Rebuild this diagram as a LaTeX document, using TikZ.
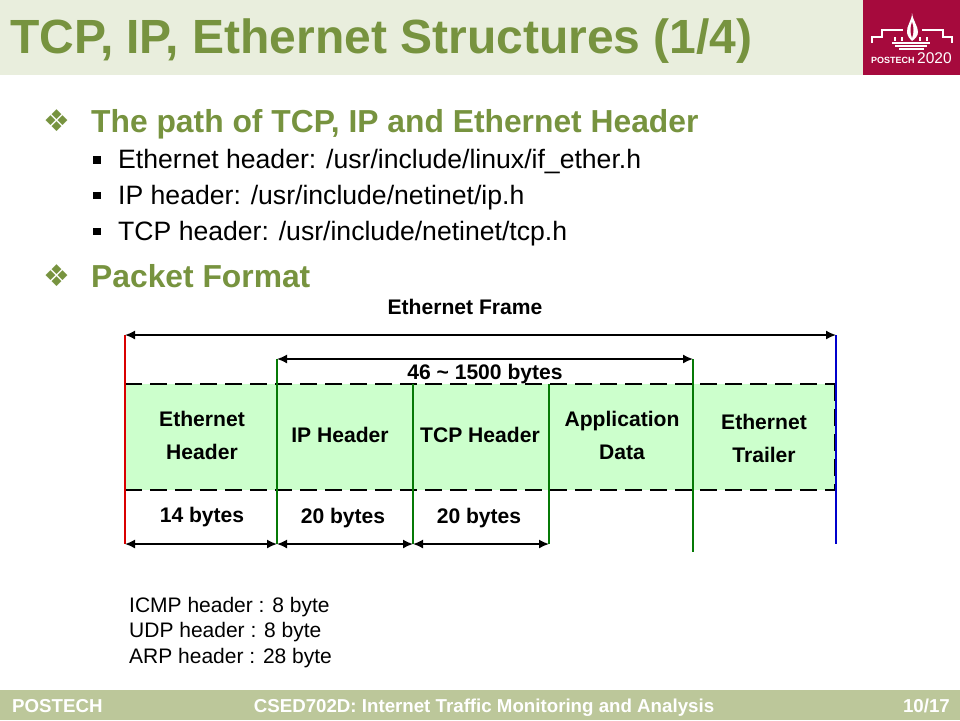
\documentclass[tikz,border=0pt]{standalone}
\usepackage{fontspec}
\setmainfont{Liberation Sans}
\newfontfamily\symfont{DejaVu Sans}
\usetikzlibrary{arrows.meta}
\definecolor{bandcol}{HTML}{E9EEDD}
\definecolor{footcol}{HTML}{BCC79A}
\definecolor{headcol}{HTML}{77933F}
\definecolor{logocol}{HTML}{A60A3D}
\definecolor{cellcol}{HTML}{CCFFCC}
\definecolor{stationgreen}{HTML}{067A06}
\newcommand{\fs}[1]{\fontsize{#1}{#1}\selectfont}

\begin{document}
\begin{tikzpicture}[
    x=1pt, y=-1pt,
    title/.style={anchor=base west, inner sep=0pt, text=headcol, font=\bfseries\fs{48}},
    head/.style={anchor=base west, inner sep=0pt, text=headcol, font=\bfseries\fs{31.8}},
    item/.style={anchor=base west, inner sep=0pt, font=\fs{26.6}},
    note/.style={anchor=base west, inner sep=0pt, font=\fs{21}},
    cell/.style={inner sep=0pt, align=center, font=\bfseries\fs{21.1}},
    foot/.style={inner sep=0pt, anchor=base, text=white, font=\bfseries\fs{18.7}},
    span/.style={{Latex[length=10pt,width=9pt]}-{Latex[length=10pt,width=9pt]}, line width=1.6pt},
    frame/.style={dashed, dash pattern=on 17pt off 8pt, line width=2pt},
    station/.style={line width=1.8pt, stationgreen},
    logoline/.style={white, line width=1.4pt},
  ]
  \useasboundingbox (0,0) rectangle (960,720);

  % --- title and footer bands ---------------------------------------------
  \fill[bandcol] (0,0) rectangle (863,75);
  \fill[footcol] (0,690) rectangle (960,720);
  \node[title] (titletext) at (10,53) {TCP, IP, Ethernet Structures (1/4)};
  \node[foot, anchor=base west] (footleft) at (12,712) {POSTECH};
  \node[foot] (footmid) at (484,712) {CSED702D: Internet Traffic Monitoring and Analysis};
  \node[foot, anchor=base east] (footright) at (950,712) {10/17};

  % --- logo -----------------------------------------------------------------
  \fill[logocol] (863,0) rectangle (960,75);
  \fill[white] (912,13) .. controls (912,21) and (906,26) .. (907,33) .. controls (908,37) and (910,39) .. (912,41)
    .. controls (915,39) and (918,36) .. (918,32) .. controls (918,26) and (913,21) .. (912,13);
  \fill[logocol] (912,22) .. controls (910,27) and (910,33) .. (912,38) .. controls (914,33) and (914,27) .. (912,22);
  \draw[logoline] (872,43) -- (872,37) -- (882,37) -- (882,30) -- (903,30);
  \draw[logoline] (922,30) -- (943,30) -- (943,37) -- (952,37) -- (952,43);
  \draw[logoline] (892,43) -- (930,43);
  \draw[logoline] (895,46) -- (927,46);
  \draw[logoline] (899,49) -- (924,49);
  \foreach \px in {895,902,920,927} {
    \draw[white, line width=1.8pt] (\px,37) -- (\px,41);
  }
  \node[anchor=base west, inner sep=0pt, text=white, font=\bfseries\fs{9}] (logoname) at (871,63) {POSTECH};
  \node[anchor=base west, inner sep=0pt, text=white, font=\fs{15.5}] (logoyear) at (917,63) {2020};

  % --- bullets and text -----------------------------------------------------
  \foreach \y/\lab in {132/{The path of TCP, IP and Ethernet Header}, 287/{Packet Format}} {
    \node[anchor=base, inner sep=0pt, text=headcol, font=\symfont\fs{30}] at (57,{\y-1}) {❖};
    \node[head] at (91,\y) {\lab};
  }
  \foreach \y/\lab in {168.5/{Ethernet header: /usr/include/linux/if\_ether.h},
                       204/{IP header: /usr/include/netinet/ip.h},
                       240/{TCP header: /usr/include/netinet/tcp.h}} {
    \fill (93,{\y-12.5}) rectangle (101,{\y-5});
    \node[item] at (118,\y) {\lab};
  }

  % --- packet cells ---------------------------------------------------------
  \coordinate (cellnw) at (125,384);
  \coordinate (cellne) at (835,384);
  \coordinate (cellsw) at (125,490);
  \coordinate (cellse) at (835,490);
  \fill[cellcol] (cellnw) rectangle (cellse);
  \draw[frame] (cellnw) -- (cellne);
  \draw[frame] (cellsw) -- (cellse);
  \draw[frame] (cellne) -- (cellse);

  % --- stations -------------------------------------------------------------
  \coordinate (redtop) at (125,335);
  \coordinate (redbot) at (125,544);
  \coordinate (bluetop) at (836,335);
  \coordinate (bluebot) at (836,544);
  \coordinate (iptop) at (277,359);
  \coordinate (ipbot) at (277,544);
  \coordinate (tcptop) at (413,384);
  \coordinate (tcpbot) at (413,544);
  \coordinate (apptop) at (549,384);
  \coordinate (appbot) at (549,544);
  \coordinate (trailtop) at (693,359);
  \coordinate (trailbot) at (693,552);
  \draw[line width=1.8pt, red!85!black] (redtop) -- (redbot);
  \draw[line width=1.8pt, blue!80!black] (bluetop) -- (bluebot);
  \foreach \st in {ip, tcp, app, trail} {
    \draw[station] (\st top) -- (\st bot);
  }

  % --- dimension arrows -----------------------------------------------------
  \draw[span] (redtop) -- (bluetop);
  \draw[span] (iptop) -- (trailtop |- iptop);
  \draw[span] (redbot) -- (ipbot);
  \draw[span] (ipbot) -- (tcpbot);
  \draw[span] (tcpbot) -- (appbot);

  % --- labels ---------------------------------------------------------------
  \node[cell] (framelab) at (465,307) {Ethernet Frame};
  \node[cell] (payloadlab) at (485,374) {46 \textasciitilde{} 1500 bytes};
  \node[cell] (ethhdr) at (202,435.5) {Ethernet\\[12pt]Header};
  \node[cell] (iphdr) at (340,434.5) {IP Header};
  \node[cell] (tcphdr) at (480,434.5) {TCP Header};
  \node[cell] (appdata) at (622,435.5) {Application\\[12pt]Data};
  \node[cell] (ethtrail) at (764,438.5) {Ethernet\\[12pt]Trailer};
  \node[cell] (ethsize) at (202,517) {14 bytes};
  \node[cell] (ipsize) at (343,518) {20 bytes};
  \node[cell] (tcpsize) at (479,518) {20 bytes};

  \node[note] (icmpnote) at (129,612) {ICMP header : 8 byte};
  \node[note] (udpnote) at (129,637) {UDP header : 8 byte};
  \node[note] (arpnote) at (129,663) {ARP header : 28 byte};

\end{tikzpicture}
\end{document}
